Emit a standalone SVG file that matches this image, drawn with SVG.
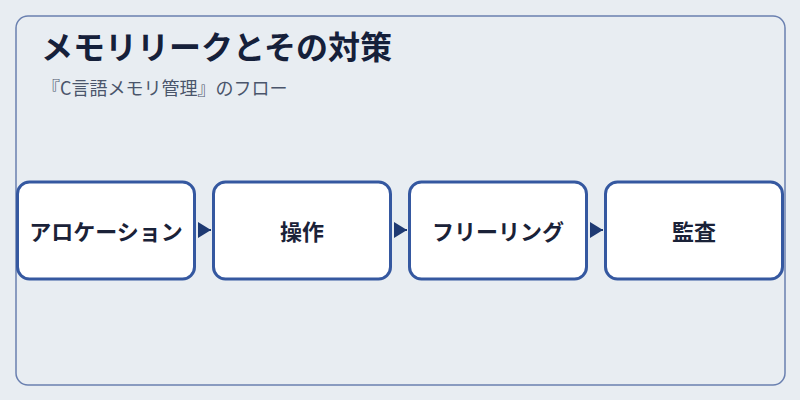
<svg xmlns="http://www.w3.org/2000/svg" width="800" height="400" viewBox="0 0 800 400">
<style>
.frame{fill:#e8edf2;stroke:#6a80b0;stroke-width:1.5}
.node rect{fill:#ffffff;stroke:#3558a0;stroke-width:3}
.node text{font-family:"Noto Sans CJK JP","Noto Sans",sans-serif;font-size:22px;font-weight:bold;fill:#1a2238;text-anchor:middle}
.title{font-family:"Noto Sans CJK JP","Noto Sans",sans-serif;font-size:32px;font-weight:bold;fill:#15203a}
.sub{font-family:"Noto Sans CJK JP","Noto Sans",sans-serif;font-size:18px;fill:#4a556b}
.conn line{stroke:#1f3a73;stroke-width:2;marker-end:url(#ah)}
</style>
<defs>
<marker id="ah" viewBox="0 0 13 16" refX="13" refY="8" markerWidth="13" markerHeight="16" markerUnits="userSpaceOnUse" orient="auto">
<path d="M0,0 L13,8 L0,16 Z" fill="#1f3a73"/>
</marker>
</defs>
<rect x="0" y="0" width="800" height="400" fill="#e8edf2"/>
<rect class="frame" x="16" y="16" width="769" height="369" rx="12"/>
<text class="title" x="41" y="59">メモリリークとその対策</text>
<text class="sub" x="42" y="95">『C言語メモリ管理』のフロー</text>
<g id="connectors" class="conn">
<line x1="198" y1="230" x2="211" y2="230"/>
<line x1="394" y1="230" x2="407" y2="230"/>
<line x1="590" y1="230" x2="603" y2="230"/>
</g>
<g id="node1" class="node"><rect x="17.5" y="182" width="177" height="97" rx="12"/><text x="106" y="240">アロケーション</text></g>
<g id="node2" class="node"><rect x="213.5" y="182" width="177" height="97" rx="12"/><text x="302" y="240">操作</text></g>
<g id="node3" class="node"><rect x="409.5" y="182" width="177" height="97" rx="12"/><text x="498" y="240">フリーリング</text></g>
<g id="node4" class="node"><rect x="605.5" y="182" width="177" height="97" rx="12"/><text x="694" y="240">監査</text></g>
</svg>
